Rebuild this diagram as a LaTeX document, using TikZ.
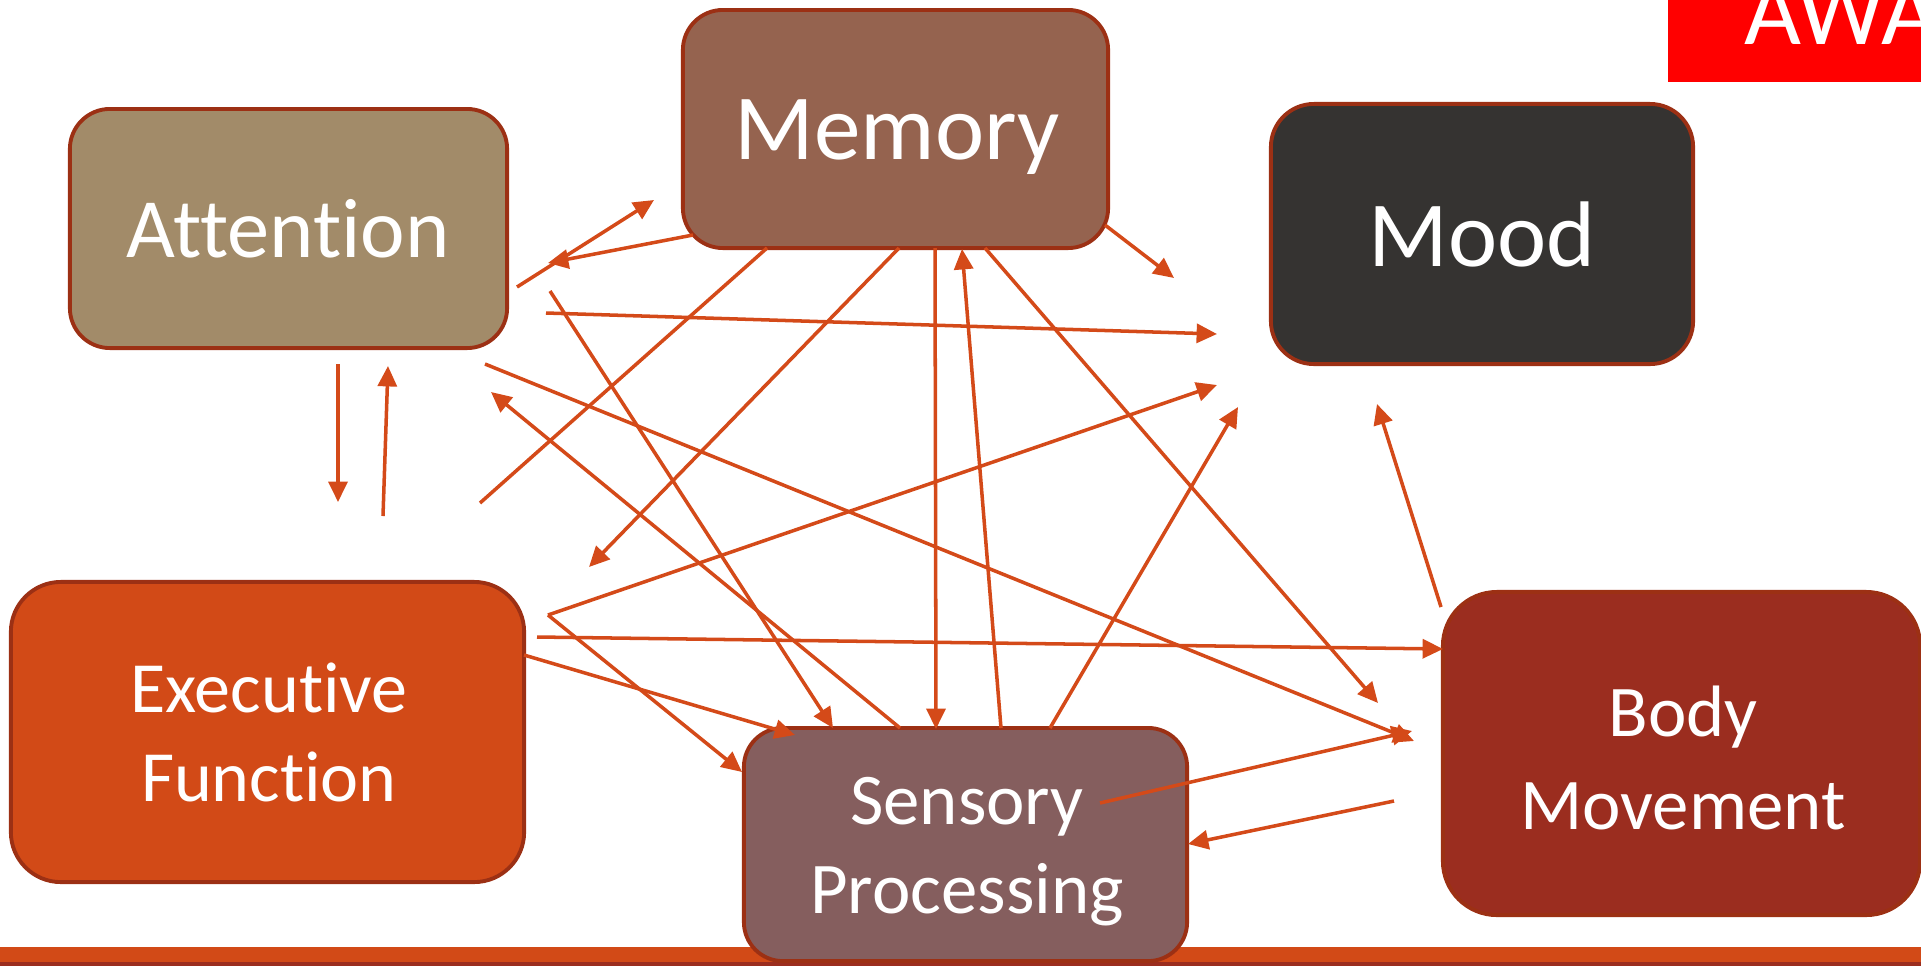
\documentclass[tikz,border=0pt]{standalone}
\usepackage{fontspec}
\setmainfont{Carlito}[Ligatures={NoCommon,NoContextual}]
\usetikzlibrary{arrows.meta}
\definecolor{attc}{HTML}{A28B69}
\definecolor{memc}{HTML}{95634F}
\definecolor{moodc}{HTML}{353331}
\definecolor{execc}{HTML}{D24A17}
\definecolor{sensc}{HTML}{855E5E}
\definecolor{bodyc}{HTML}{9B2D1F}
\definecolor{borderc}{HTML}{9C3014}
\definecolor{arrc}{HTML}{D44A19}
\definecolor{barc}{HTML}{D24A17}
\definecolor{bardark}{HTML}{9B2D1F}
\definecolor{awac}{HTML}{FF0000}
\begin{document}
\begin{tikzpicture}[x=0.01cm,y=-0.01cm,
  box/.style={draw=borderc, line width=1.1pt, inner sep=0pt},
  lbl/.style={anchor=base, text=white, inner sep=0pt},
  arr/.style={draw=arrc, line width=1pt, -{Triangle[length=5.8pt,width=5.4pt]}},
  lin/.style={draw=arrc, line width=1pt}]
\useasboundingbox (0,0) rectangle (1921,966);

% bottom bar
\fill[barc] (0,947) rectangle (1921,963);
\fill[bardark] (0,962) rectangle (1921,966);

% boxes
\node[box, fill=attc, rounded corners=0.40cm, minimum width=4.37cm, minimum height=2.39cm] (att) at (288.5,228.5) {};
\node[box, fill=memc, rounded corners=0.40cm, minimum width=4.25cm, minimum height=2.38cm] (mem) at (895.5,129) {};
\node[box, fill=moodc, rounded corners=0.43cm, minimum width=4.22cm, minimum height=2.60cm] (mood) at (1482,234) {};
\node[box, fill=execc, rounded corners=0.50cm, minimum width=5.13cm, minimum height=3.00cm] (exec) at (267.5,732) {};
\node[box, fill=sensc, rounded corners=0.39cm, minimum width=4.43cm, minimum height=2.33cm] (sens) at (965.5,844.5) {};
\node[box, fill=bodyc, rounded corners=0.54cm, minimum width=4.77cm, minimum height=3.23cm] (body) at (1681.5,753.5) {};

% labels
\node[lbl, font=\fontsize{24}{29}\selectfont] (attl) at (288,257) {Attention};
\node[lbl, font=\fontsize{26.5}{32}\selectfont] (meml) at (897,159) {Memory};
\node[lbl, font=\fontsize{26.5}{32}\selectfont] (moodl) at (1482,266) {Mood};
\node[lbl, font=\fontsize{20.5}{25}\selectfont] (execl1) at (269,712) {Executive};
\node[lbl, font=\fontsize{20.5}{25}\selectfont] (execl2) at (269,801) {Function};
\node[lbl, font=\fontsize{20.7}{25}\selectfont] (sensl1) at (967,824) {Sensory};
\node[lbl, font=\fontsize{20.7}{25}\selectfont] (sensl2) at (967,913) {Processing};
\node[lbl, font=\fontsize{20.7}{25}\selectfont] (bodyl1) at (1683,736) {Body};
\node[lbl, font=\fontsize{20.7}{25}\selectfont] (bodyl2) at (1683,829) {Movement};

% red corner box
\node[fill=awac, inner sep=0pt, minimum width=2.53cm, minimum height=0.82cm] (awabox) at (1794.5,41) {};
\node[anchor=base west, text=white, inner sep=0pt, font=\fontsize{28}{34}\selectfont] (awal) at (1744,44) {AWA};

% connector end points
\coordinate (c1s) at (517,287);  \coordinate (c1e) at (654,200);
\coordinate (c2s) at (693,235);  \coordinate (c2e) at (548,263);
\coordinate (c3s) at (1105,225); \coordinate (c3e) at (1174,278);
\coordinate (c4s) at (546,313);  \coordinate (c4e) at (1217,334);
\coordinate (c5s) at (485,364);  \coordinate (c5e) at (1414,741);
\coordinate (c6s) at (550,291);  \coordinate (c6e) at (833,728);
\coordinate (c7s) at (338,364);  \coordinate (c7e) at (338,502);
\coordinate (c8s) at (383,516);  \coordinate (c8e) at (388,366);
\coordinate (c9s) at (480,503);  \coordinate (c9e) at (767,248);
\coordinate (c10s) at (899,248); \coordinate (c10e) at (589,567);
\coordinate (c11s) at (935,248); \coordinate (c11e) at (936,729);
\coordinate (c12s) at (1001,728); \coordinate (c12e) at (962,249);
\coordinate (c13s) at (985,248); \coordinate (c13e) at (1378,703);
\coordinate (c14s) at (548,615); \coordinate (c14e) at (1217,385);
\coordinate (c15s) at (1050,728); \coordinate (c15e) at (1238,407);
\coordinate (c16s) at (900,728); \coordinate (c16e) at (491,392);
\coordinate (c17s) at (537,637); \coordinate (c17e) at (1443,649);
\coordinate (c18s) at (524,655); \coordinate (c18e) at (795,735);
\coordinate (c19s) at (548,615); \coordinate (c19e) at (742,772);
\coordinate (c20s) at (1441,607); \coordinate (c20e) at (1377,404);
\coordinate (c21s) at (1100,803); \coordinate (c21e) at (1412,731);
\coordinate (c22s) at (1394,801); \coordinate (c22e) at (1188,844);

% connectors
\draw[arr] (c1s) -- (c1e);
\draw[arr] (c2s) -- (c2e);
\draw[arr] (c3s) -- (c3e);
\draw[arr] (c4s) -- (c4e);
\draw[arr] (c5s) -- (c5e);
\draw[arr] (c6s) -- (c6e);
\draw[arr] (c7s) -- (c7e);
\draw[arr] (c8s) -- (c8e);
\draw[lin] (c9s) -- (c9e);
\draw[arr] (c10s) -- (c10e);
\draw[arr] (c11s) -- (c11e);
\draw[arr] (c12s) -- (c12e);
\draw[arr] (c13s) -- (c13e);
\draw[arr] (c14s) -- (c14e);
\draw[arr] (c15s) -- (c15e);
\draw[arr] (c16s) -- (c16e);
\draw[arr] (c17s) -- (c17e);
\draw[arr] (c18s) -- (c18e);
\draw[arr] (c19s) -- (c19e);
\draw[arr] (c20s) -- (c20e);
\draw[arr] (c21s) -- (c21e);
\draw[arr] (c22s) -- (c22e);
\end{tikzpicture}
\end{document}
